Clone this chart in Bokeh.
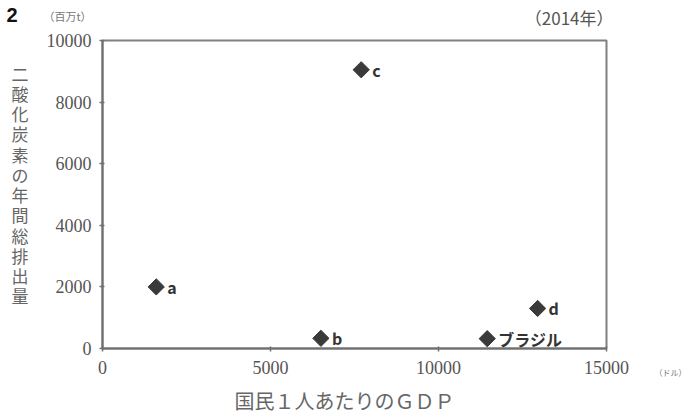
import math
from bokeh.plotting import figure
from bokeh.models import Range1d, Label, FixedTicker
from bokeh.layouts import column, row
from bokeh.embed import file_html
from bokeh.resources import INLINE

# data
names = ["a", "b", "c", "d", "ブラジル"]
gdp = [1600, 6500, 7700, 12950, 11450]
co2 = [2000, 330, 9050, 1300, 320]
x_ticks = [0, 5000, 10000, 15000]
y_ticks = [0, 2000, 4000, 6000, 8000, 10000]
y_title = "二酸化炭素の年間総排出量"
x_title = "国民１人あたりのＧＤＰ"
y_unit = "（百万t）"
x_unit = "（ドル）"
year_note = "（2014年）"
question_no = "2"

PAGE_W, PAGE_H = 685, 417
HEAD_H = 30
MAIN_W = 631
MAIN_H = PAGE_H - HEAD_H
SIDE_W = PAGE_W - MAIN_W


def blank(w, h):
    f = figure(width=w, height=h, output_backend="svg", toolbar_location=None,
               x_range=Range1d(0, w), y_range=Range1d(0, h),
               x_axis_location=None, y_axis_location=None,
               min_border=0, min_border_left=0, min_border_right=0,
               min_border_top=0, min_border_bottom=0)
    f.grid.visible = False
    f.outline_line_color = None
    f.background_fill_color = "white"
    f.border_fill_color = "white"
    return f


# header strip (texts above the chart box)
head = blank(MAIN_W, HEAD_H)
head.add_layout(Label(x=6, y=HEAD_H - 14, text=question_no, text_align="left", text_baseline="middle",
                      text_font="Liberation Sans", text_font_style="bold",
                      text_font_size="20px", text_color="#111111"))
head.add_layout(Label(x=67, y=HEAD_H - 15, text=y_unit, text_align="center", text_baseline="middle",
                      text_font="Noto Sans CJK JP", text_font_size="11px", text_color="#777777"))
head.add_layout(Label(x=613, y=HEAD_H - 17, text=year_note, text_align="right", text_baseline="middle",
                      text_font="Noto Sans CJK JP", text_font_size="17px", text_color="#555555"))

# main chart
p = figure(width=MAIN_W, height=MAIN_H, output_backend="svg", toolbar_location=None,
           x_range=Range1d(0, 15000), y_range=Range1d(0, 10000),
           min_border_left=102, min_border_right=MAIN_W - 606,
           min_border_top=40 - HEAD_H, min_border_bottom=69)
p.grid.visible = False
p.outline_line_color = "#808080"
p.outline_line_width = 2
p.background_fill_color = "white"
p.border_fill_color = "white"

for ax in (p.xaxis[0], p.yaxis[0]):
    ax.axis_line_color = "#707070"
    ax.axis_line_width = 2
    ax.major_tick_line_color = "#707070"
    ax.major_tick_line_width = 1.5
    ax.major_tick_in = 2
    ax.major_tick_out = 3
    ax.minor_tick_line_color = None
    ax.major_label_text_font = "Liberation Serif"
    ax.major_label_text_font_size = "18px"
    ax.major_label_text_color = "#555555"
    ax.axis_label_text_font = "Noto Sans CJK JP"
    ax.axis_label_text_font_style = "normal"
    ax.axis_label_text_color = "#666666"
p.xaxis[0].ticker = FixedTicker(ticks=x_ticks)
p.yaxis[0].ticker = FixedTicker(ticks=y_ticks)
p.xaxis[0].major_label_standoff = 9
p.yaxis[0].major_label_standoff = 8

# trailing ideographic space nudges the centred title slightly left, as in the original
p.xaxis[0].axis_label = x_title + "　"
p.xaxis[0].axis_label_text_font_size = "20px"
p.xaxis[0].axis_label_standoff = 9

# vertical title: one character per line; the trailing blank line lifts it a little
p.yaxis[0].axis_label = "\n".join(y_title) + "\n　"
p.yaxis[0].axis_label_orientation = "horizontal"
p.yaxis[0].axis_label_text_font_size = "17px"
p.yaxis[0].axis_label_text_line_height = 0.81
p.yaxis[0].axis_label_standoff = 15

p.scatter(gdp, co2, marker="square", angle=math.pi / 4, size=11.5,
          fill_color="#3a3a3a", line_color="#3a3a3a")

for n, gx, cy in zip(names, gdp, co2):
    p.add_layout(Label(x=gx, y=cy, text=n, x_offset=11, y_offset=0,
                       text_baseline="middle", text_align="left",
                       text_font="Noto Sans CJK JP", text_font_style="bold",
                       text_font_size="16px", text_color="#333333"))

# side strip to the right (unit of the x axis), full page height
side = blank(SIDE_W, PAGE_H)
side.add_layout(Label(x=654 - MAIN_W, y=PAGE_H - 372, text=x_unit,
                      text_align="left", text_baseline="middle",
                      text_font="Noto Sans CJK JP", text_font_size="8px", text_color="#777777"))

layout = row(column(head, row(p, spacing=0), spacing=0), side, spacing=0)
open("out.html", "w").write(file_html(layout, INLINE))
